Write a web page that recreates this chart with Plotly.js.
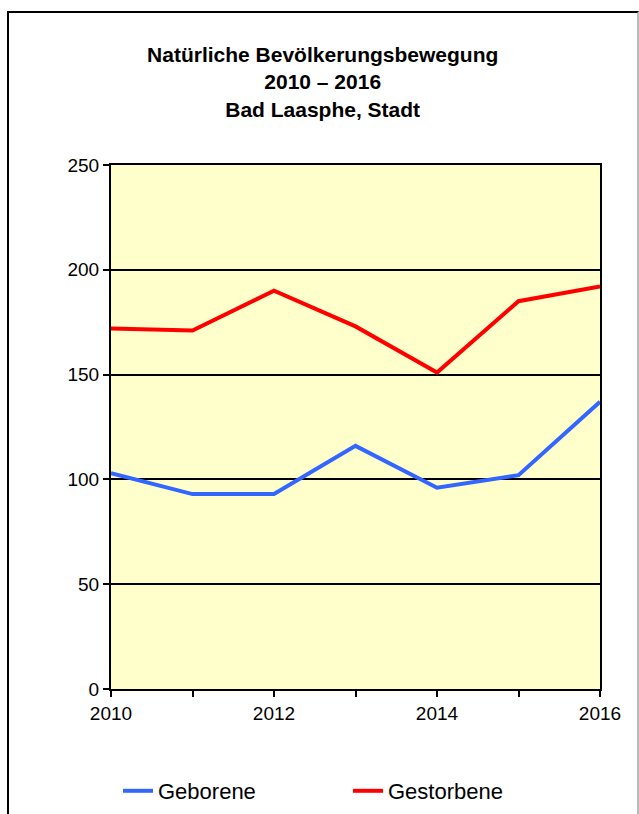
<!DOCTYPE html>
<html>
<head>
<meta charset="utf-8">
<script src="https://cdn.plot.ly/plotly-3.0.1.min.js"></script>
<style>
  body { margin: 0; background: #fff; }
  #wrap { position: relative; width: 639px; height: 814px; }
  #frame {
    position: absolute; left: 7px; top: 11px; width: 628px; height: 820px;
    border-left: 2px solid #000; border-top: 2px solid #000; border-right: 2px solid #bbb;
    pointer-events: none;
  }
</style>
</head>
<body>
<div id="wrap">
  <div id="chart"></div>
  <div id="frame"></div>
</div>
<script>
// Natürliche Bevölkerungsbewegung, Bad Laasphe
const years = [2010, 2011, 2012, 2013, 2014, 2015, 2016];
const geborene = [103, 93, 93, 116, 96, 102, 137];
const gestorbene = [172, 171, 190, 173, 151, 185, 192];
const yearLabels = ['2010', '', '2012', '', '2014', '', '2016'];

const traces = [
  {
    x: years, y: geborene, name: 'Geborene', type: 'scatter', mode: 'lines',
    line: { color: '#3366FF', width: 4 }
  },
  {
    x: years, y: gestorbene, name: 'Gestorbene', type: 'scatter', mode: 'lines',
    line: { color: '#FF0000', width: 4 }
  }
];

const font = { family: 'Liberation Sans, Arial, sans-serif', color: '#000' };

const layout = {
  width: 639,
  height: 814,
  margin: { l: 111, r: 39, t: 165, b: 125, autoexpand: false },
  paper_bgcolor: '#fff',
  plot_bgcolor: '#FFFFCC',
  font: Object.assign({ size: 18 }, font),
  title: {
    text: '<b>Natürliche Bevölkerungsbewegung<br>2010 – 2016<br>Bad Laasphe, Stadt</b>',
    font: Object.assign({ size: 21 }, font),
    x: 0.505, xanchor: 'center',
    y: 1 - 62 / 814, yanchor: 'top'
  },
  xaxis: {
    range: [2010, 2016],
    tickvals: years,
    ticktext: yearLabels,
    ticks: 'outside', ticklen: 6, tickwidth: 2, tickcolor: '#000',
    showline: true, linecolor: '#000', linewidth: 2, mirror: true,
    showgrid: false, zeroline: false,
    tickfont: Object.assign({ size: 19 }, font)
  },
  yaxis: {
    range: [0, 250],
    dtick: 50,
    ticks: 'outside', ticklen: 6, tickwidth: 2, tickcolor: '#000',
    showline: true, linecolor: '#000', linewidth: 2, mirror: true,
    showgrid: true, gridcolor: '#000', gridwidth: 2,
    zeroline: false,
    tickfont: Object.assign({ size: 19 }, font)
  },
  showlegend: true,
  legend: {
    orientation: 'h',
    x: (118 - 111) / 489, xanchor: 'left',
    y: -(791 - 689) / 524, yanchor: 'middle',
    font: Object.assign({ size: 22 }, font),
    entrywidth: 185, entrywidthmode: 'pixels',
    bgcolor: 'rgba(0,0,0,0)'
  }
};

Plotly.newPlot('chart', traces, layout, { displayModeBar: false, staticPlot: true });
</script>
</body>
</html>
